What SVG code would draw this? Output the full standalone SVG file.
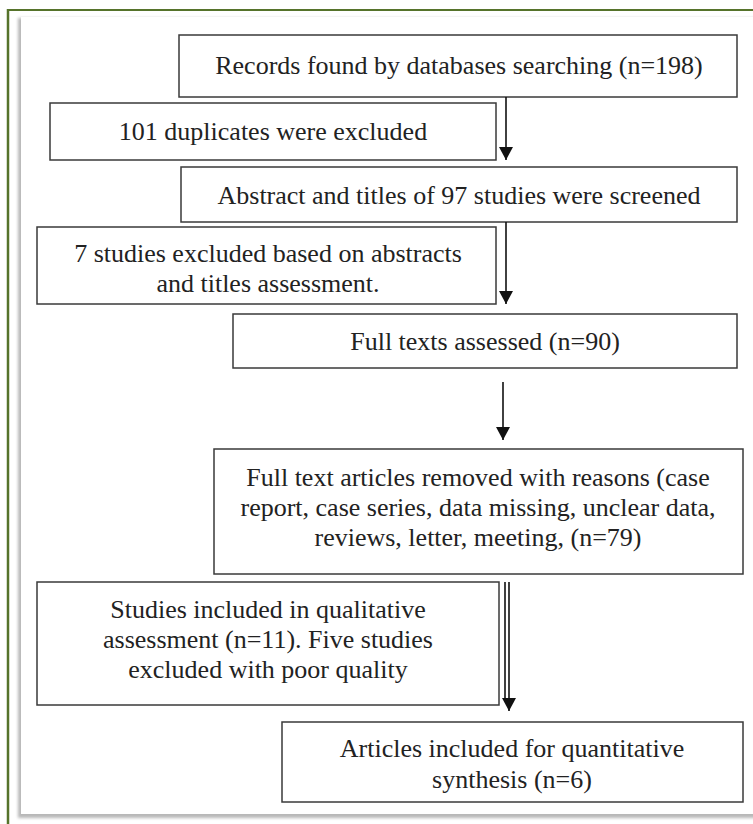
<svg xmlns="http://www.w3.org/2000/svg" width="753" height="824" viewBox="0 0 753 824">
<style>
.box{fill:#fff;stroke:#3a3a3a;stroke-width:1.5}
.t{font-family:'Liberation Serif','DejaVu Serif',serif;font-size:26px;fill:#222;text-anchor:middle}
.ln{stroke:#111;stroke-width:1.6;fill:none}
</style>
<defs>
<marker id="ah" markerWidth="13" markerHeight="14" refX="13" refY="7" orient="auto" markerUnits="userSpaceOnUse" viewBox="0 0 13 14">
<path d="M0,0 L13,7 L0,14 Z" fill="#111"/>
</marker>
<filter id="sh" x="-5%" y="-5%" width="110%" height="110%"><feGaussianBlur stdDeviation="1.5"/></filter>
</defs>
<rect x="0" y="0" width="753" height="824" fill="#fff"/>
<g id="frame">
<rect x="18" y="18" width="760" height="800" fill="#b8b8b8" filter="url(#sh)"/>
<rect x="21" y="17" width="760" height="797" fill="#fff"/>
<line x1="8" y1="10" x2="753" y2="10" stroke="#56732b" stroke-width="2"/>
<line x1="8" y1="9" x2="8" y2="824" stroke="#56732b" stroke-width="2.5"/>
</g>
<g id="n1"><rect class="box" x="179" y="35" width="558" height="62"/><text class="t" x="459" y="74">Records found by databases searching (n=198)</text></g>
<g id="n2"><rect class="box" x="50" y="103" width="446" height="57"/><text class="t" x="273" y="140">101 duplicates were excluded</text></g>
<g id="n3"><rect class="box" x="181" y="167" width="556" height="55"/><text class="t" x="459" y="204">Abstract and titles of 97 studies were screened</text></g>
<g id="n4"><rect class="box" x="37" y="227" width="459" height="77"/><text class="t" x="268" y="262">7 studies excluded based on abstracts</text><text class="t" x="268" y="292">and titles assessment.</text></g>
<g id="n5"><rect class="box" x="233" y="314" width="504" height="54"/><text class="t" x="485" y="350">Full texts assessed (n=90)</text></g>
<g id="n6"><rect class="box" x="214" y="449" width="529" height="125"/><text class="t" x="478" y="486">Full text articles removed with reasons (case</text><text class="t" x="478" y="516">report, case series, data missing, unclear data,</text><text class="t" x="478" y="546">reviews, letter, meeting, (n=79)</text></g>
<g id="n7"><rect class="box" x="37" y="582" width="462" height="123"/><text class="t" x="268" y="618">Studies included in qualitative</text><text class="t" x="268" y="648">assessment (n=11). Five studies</text><text class="t" x="268" y="678">excluded with poor quality</text></g>
<g id="n8"><rect class="box" x="282" y="722" width="461" height="80"/><text class="t" x="512" y="757">Articles included for quantitative</text><text class="t" x="512" y="788">synthesis (n=6)</text></g>
<g id="connectors">
<line class="ln" x1="506" y1="97" x2="506" y2="160" marker-end="url(#ah)"/>
<line class="ln" x1="506" y1="222" x2="506" y2="304" marker-end="url(#ah)"/>
<line class="ln" x1="503" y1="382" x2="503" y2="440" marker-end="url(#ah)"/>
<line class="ln" x1="505" y1="582" x2="505" y2="700"/>
<line class="ln" x1="509" y1="582" x2="509" y2="711" marker-end="url(#ah)"/>
</g>
</svg>
